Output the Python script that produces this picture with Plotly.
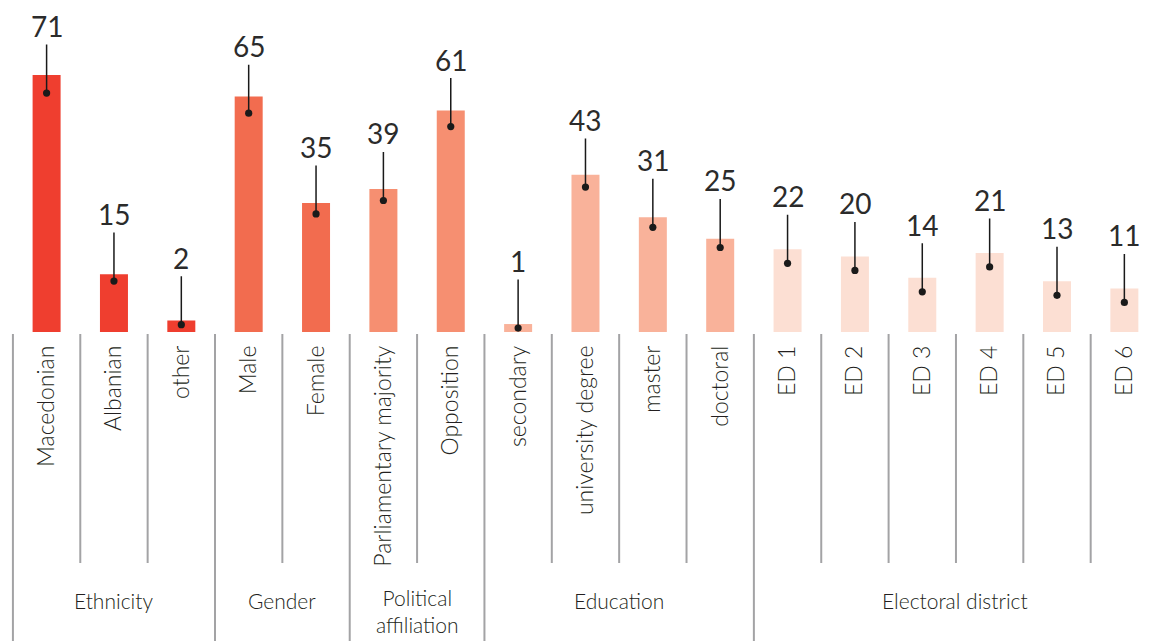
import plotly.graph_objects as go

categories = ["Macedonian", "Albanian", "other", "Male", "Female",
              "Parliamentary majority", "Opposition", "secondary",
              "university degree", "master", "doctoral",
              "ED 1", "ED 2", "ED 3", "ED 4", "ED 5", "ED 6"]
values = [71, 15, 2, 65, 35, 39, 61, 1, 43, 31, 25, 22, 20, 14, 21, 13, 11]
groups = ["Ethnicity", "Gender", "Political<br>affiliation", "Education", "Electoral district"]
group_sizes = [3, 2, 2, 4, 6]
group_colors = ["#EF3E2F", "#F26C4F", "#F68F71", "#F9B29A", "#FCDFD3"]

FONT = "Lato"
TXT = "#231F20"
LINE = "#A3A3A5"

colors = []
group_of = []
for gi, (c, n) in enumerate(zip(group_colors, group_sizes)):
    colors += [c] * n
    group_of += [gi] * n

x = list(range(len(categories)))

# page has an 8px body margin; compensate
PAGE_OFF = 8
BOTTOM_Y = 332          # window y of plot bottom (bars' foot)
ZERO_Y = 327.6          # window y of value zero
px_per = 3.557
PLOT_H = BOTTOM_Y - PAGE_OFF
B_MARGIN = 641 - PLOT_H
Y0 = -(BOTTOM_Y - ZERO_Y) / px_per
YMAX = (ZERO_Y - PAGE_OFF) / px_per

X_PX0 = 46.6            # window x of first category
X_STEP = 67.36          # px per category
X_LEFT = (PAGE_OFF - X_PX0) / X_STEP
X_RIGHT = (PAGE_OFF + 1156 - X_PX0) / X_STEP
X_WIN_RIGHT = (1156 - X_PX0) / X_STEP


def paper_y(win_y):
    return (BOTTOM_Y - win_y) / PLOT_H


fig = go.Figure()
fig.add_trace(go.Bar(x=x, y=[v - Y0 for v in values], base=Y0, marker_color=colors,
                     width=28 / X_STEP, marker_line_width=0, hoverinfo="skip"))

for i, v in enumerate(values):
    off = 14 if group_of[i] == len(groups) - 1 else 3.8 + 0.2 * v
    fig.add_annotation(x=i, y=v, xref="x", yref="y", text=str(v),
                       showarrow=True, arrowhead=6, arrowsize=1.2, arrowwidth=1.5,
                       arrowcolor="#1a1a1a", ax=0, ay=-67, yshift=-off,
                       font=dict(family=FONT, size=28, color="#2b2b2b", weight=400))

start = 0
for gi, (g, n) in enumerate(zip(groups, group_sizes)):
    for k in range(n):
        idx = start + k
        y1 = paper_y(650) if k == 0 else paper_y(563)
        fig.add_shape(type="line", xref="x", yref="paper",
                      x0=idx - 0.5, x1=idx - 0.5, y0=paper_y(334), y1=y1,
                      line=dict(color=LINE, width=2))
    end = start + n - 0.5 if gi < len(groups) - 1 else X_WIN_RIGHT
    center = (start - 0.5 + end) / 2
    yy = paper_y(611) if "<br>" in g else paper_y(600)
    fig.add_annotation(x=center, y=yy, xref="x", yref="paper", text=g, showarrow=False,
                       yanchor="middle", xanchor="center",
                       font=dict(family=FONT, size=21, color=TXT, weight=300), align="center")
    start += n

fig.update_layout(
    width=1156, height=641,
    margin=dict(l=0, r=0, t=0, b=B_MARGIN),
    plot_bgcolor="white", paper_bgcolor="white",
    showlegend=False,
    xaxis=dict(range=[X_LEFT, X_RIGHT], tickmode="array", tickvals=x, ticktext=categories,
               tickangle=-90, showgrid=False, zeroline=False, showline=False,
               ticks="", ticklabelstandoff=8,
               tickfont=dict(family=FONT, size=23, color=TXT, weight=300)),
    yaxis=dict(range=[Y0, YMAX], visible=False, showgrid=False, zeroline=False),
)

fig.write_html("out.html")
